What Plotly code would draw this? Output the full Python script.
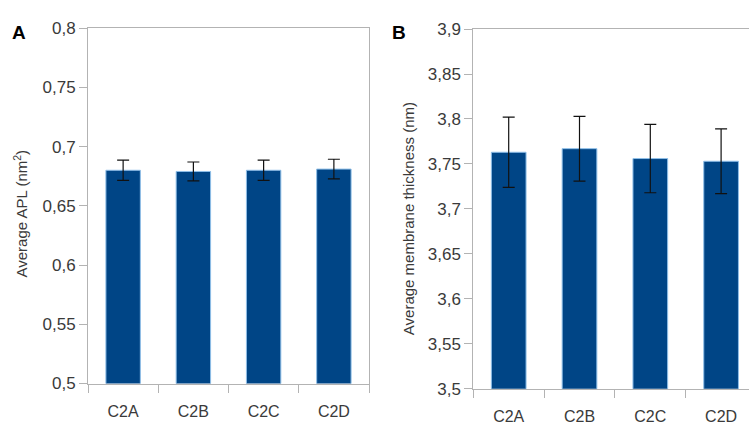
import plotly.graph_objects as go

# Simulated membrane properties for the four C2 systems
systems = ["C2A", "C2B", "C2C", "C2D"]

apl_mean = [0.680, 0.679, 0.680, 0.681]
apl_err = [0.0085, 0.008, 0.0085, 0.0083]

thick_mean = [3.763, 3.767, 3.756, 3.753]
thick_err = [0.039, 0.036, 0.038, 0.036]

apl_ticks = [0.5, 0.55, 0.6, 0.65, 0.7, 0.75, 0.8]
apl_ticktext = ["0,5", "0,55", "0,6", "0,65", "0,7", "0,75", "0,8"]
thick_ticks = [3.5, 3.55, 3.6, 3.65, 3.7, 3.75, 3.8, 3.85, 3.9]
thick_ticktext = ["3,5", "3,55", "3,6", "3,65", "3,7", "3,75", "3,8", "3,85", "3,9"]

W, H = 749, 426
BAR = "#004586"
EDGE = "#8fbfe8"
AXIS = "#b3b3b3"
TXT = "#3a3a3a"
FONT = "Liberation Sans, Arial, sans-serif"

fig = go.Figure()

fig.add_trace(go.Bar(
    x=systems, y=apl_mean, xaxis="x", yaxis="y", width=0.49,
    marker=dict(color=BAR, line=dict(color=EDGE, width=1)),
    error_y=dict(type="data", array=apl_err, color="#111111", thickness=1.2, width=6),
    showlegend=False,
))
fig.add_trace(go.Bar(
    x=systems, y=thick_mean, xaxis="x2", yaxis="y2", width=0.49,
    marker=dict(color=BAR, line=dict(color=EDGE, width=1)),
    error_y=dict(type="data", array=thick_err, color="#111111", thickness=1.2, width=6),
    showlegend=False,
))

def px_x(v):
    return v / W

def px_y(v):
    return 1 - v / H

common_x = dict(
    type="category", showline=True, linecolor=AXIS, linewidth=1, mirror=True,
    ticks="outside", tickson="boundaries", ticklen=8, tickcolor=AXIS,
    showgrid=False, zeroline=False, ticklabelstandoff=13,
    tickfont=dict(family=FONT, size=16, color=TXT),
)
common_y = dict(
    showline=True, linecolor=AXIS, linewidth=1,
    ticks="outside", ticklen=8, tickcolor=AXIS,
    showgrid=False, zeroline=False,
    tickfont=dict(family=FONT, size=17, color=TXT),
)

fig.update_layout(
    width=W, height=H,
    margin=dict(l=0, r=0, t=0, b=0),
    paper_bgcolor="white", plot_bgcolor="white",
    bargap=0.5,
    xaxis=dict(common_x, domain=[px_x(88), px_x(369)], range=[-0.5, 3.5], anchor="y"),
    yaxis=dict(common_y, domain=[px_y(392), px_y(20)], range=[0.5, 0.8],
               tickvals=apl_ticks, ticktext=apl_ticktext, mirror=True, anchor="x"),
    xaxis2=dict(common_x, domain=[px_x(473.3), 1.0], range=[-0.5, 3.394], anchor="y2"),
    yaxis2=dict(common_y, domain=[px_y(397.5), px_y(21)], range=[3.5, 3.9],
                tickvals=thick_ticks, ticktext=thick_ticktext, mirror=False, anchor="x2"),
    annotations=[
        dict(text="Average APL (nm<sup>2</sup>)", xref="paper", yref="paper",
             x=px_x(20), y=px_y(214), textangle=-90, showarrow=False,
             xanchor="center", yanchor="middle",
             font=dict(family=FONT, size=15, color=TXT)),
        dict(text="Average membrane thickness (nm)", xref="paper", yref="paper",
             x=px_x(408), y=px_y(220), textangle=-90, showarrow=False,
             xanchor="center", yanchor="middle",
             font=dict(family=FONT, size=15, color=TXT)),
        dict(text="<b>A</b>", xref="paper", yref="paper",
             x=px_x(18.5), y=px_y(25), showarrow=False,
             xanchor="center", yanchor="middle",
             font=dict(family=FONT, size=19, color="#000000")),
        dict(text="<b>B</b>", xref="paper", yref="paper",
             x=px_x(399), y=px_y(25), showarrow=False,
             xanchor="center", yanchor="middle",
             font=dict(family=FONT, size=19, color="#000000")),
    ],
)

fig.write_html("out.html")
